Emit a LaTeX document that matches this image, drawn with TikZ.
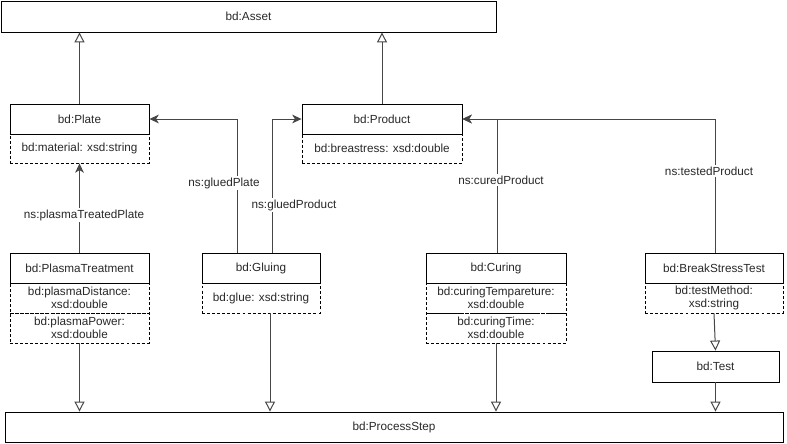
\documentclass[tikz,border=0pt]{standalone}
\usepackage{fontspec}
\setmainfont{Liberation Sans}
\usetikzlibrary{arrows.meta,calc}
\definecolor{txt}{RGB}{40,40,40}
\definecolor{ln}{RGB}{70,70,70}
\tikzset{
  px/.style={x=0.75pt,y=-0.75pt},
  hdr/.style={draw=black,line width=0.65pt,inner sep=0pt,align=center,text=txt,font=\fontsize{8.8}{10}\selectfont},
  attr/.style={draw=black,dashed,dash pattern=on 2.2pt off 1.6pt,line width=0.6pt,inner sep=0pt,align=center,text=txt,font=\fontsize{8.8}{10}\selectfont},
  isa/.style={draw=ln,line width=0.75pt,-{Triangle[open,length=7.5pt,width=7.5pt]}},
  rel/.style={draw=ln,line width=0.75pt,-{Stealth[length=7pt,width=6.5pt,inset=2pt]}},
  lbl/.style={fill=white,inner sep=1pt,text=txt,font=\fontsize{8.8}{10}\selectfont},
}
\newcommand{\cls}[7]{%
  \node[#7,minimum width={(#4-#2)*0.75pt},minimum height={(#5-#3)*0.75pt}] (#1) at ({(#2+#4)/2},{(#3+#5)/2}) {#6};}
\begin{document}
\begin{tikzpicture}[px]
\useasboundingbox (0,0) rectangle (787,443);
% classes
\cls{asset}{1}{1}{496}{32}{bd:Asset}{hdr}
\cls{plate}{10}{104}{149}{134}{bd:Plate}{hdr}
\cls{platea}{10}{134}{149}{163}{bd:material: xsd:string}{attr}
\cls{prod}{302}{104}{462}{134}{bd:Product}{hdr}
\cls{proda}{302}{134}{462}{163}{bd:breastress: xsd:double}{attr}
\cls{pt}{10}{253}{149}{283}{bd:PlasmaTreatment}{hdr}
\cls{pta}{10}{283}{149}{313}{bd:plasmaDistance:\\xsd:double}{attr}
\cls{ptb}{10}{313}{149}{343}{bd:plasmaPower:\\xsd:double}{attr}
\cls{glu}{202}{253}{320}{283}{bd:Gluing}{hdr}
\cls{glua}{202}{283}{320}{313}{bd:glue: xsd:string}{attr}
\cls{cur}{426}{253}{566}{283}{bd:Curing}{hdr}
\cls{cura}{426}{283}{566}{313}{bd:curingTempareture:\\xsd:double}{attr}
\cls{curb}{426}{313}{566}{343}{bd:curingTime:\\xsd:double}{attr}
\cls{bst}{645}{253}{783}{283}{bd:BreakStressTest}{hdr}
\cls{bsta}{645}{283}{783}{313}{bd:testMethod:\\xsd:string}{attr}
\cls{test}{652}{351}{779}{382}{bd:Test}{hdr}
\cls{ps}{5}{412}{783}{442}{bd:ProcessStep}{hdr}
% generalisations
\draw[isa] (plate.north) -- (plate.north |- asset.south);
\draw[isa] (prod.north) -- (prod.north |- asset.south);
\draw[isa] (ptb.south) -- (ptb.south |- ps.north);
\draw[isa] (270,0 |- glua.south) -- (270,0 |- ps.north);
\draw[isa] (curb.south) -- (curb.south |- ps.north);
\draw[isa] (bsta.south) -- (test.north);
\draw[isa] (test.south) -- (test.south |- ps.north);
% relations
\draw[rel] (pt.north) -- (platea.south);
\draw[rel] (237,0 |- glu.north) |- (plate.east);
\draw[rel] (272,0 |- glu.north) |- (prod.west);
\draw[rel] (715,0 |- bst.north) |- (prod.east);
\draw[rel] (497,0 |- cur.north) |- (prod.east);
% labels
\node[lbl] (l1) at (84,215) {ns:plasmaTreatedPlate};
\node[lbl] (l2) at (224,183) {ns:gluedPlate};
\node[lbl] (l3) at (294,205) {ns:gluedProduct};
\node[lbl] (l4) at (501,180) {ns:curedProduct};
\node[lbl] (l5) at (709,171) {ns:testedProduct};
\end{tikzpicture}
\end{document}
